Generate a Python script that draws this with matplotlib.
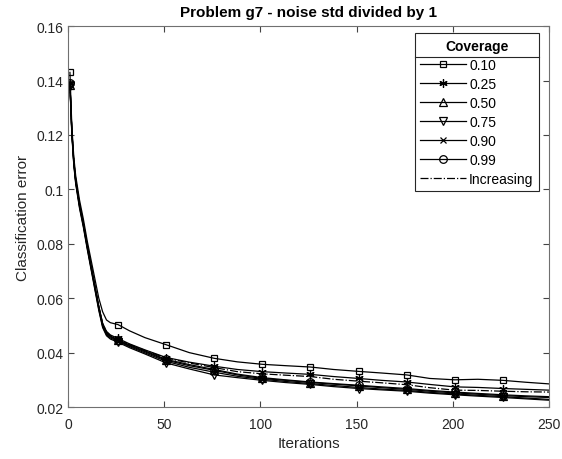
import matplotlib
matplotlib.use('Agg')
import matplotlib.pyplot as plt
from matplotlib.lines import Line2D

plt.rcParams['font.family'] = ['Liberation Sans', 'DejaVu Sans']

iters = [1, 2, 3, 4, 6, 8, 10, 12, 14, 16, 18, 20, 22, 26, 32, 40, 51, 63, 76,
         88, 101, 113, 126, 138, 151, 163, 176, 188, 201, 213, 226, 238, 250]

cov_010 = [0.1430, 0.1230, 0.1120, 0.1050, 0.0960, 0.0890, 0.0810, 0.0740, 0.0670, 0.0600, 0.0550,
           0.0520, 0.0510, 0.0503, 0.0480, 0.0455, 0.0429, 0.0400, 0.0379, 0.0366, 0.0357, 0.0352,
           0.0347, 0.0338, 0.0331, 0.0325, 0.0318, 0.0305, 0.0300, 0.0302, 0.0298, 0.0291, 0.0285]
cov_025 = [0.1390, 0.1215, 0.1105, 0.1035, 0.0945, 0.0875, 0.0795, 0.0720, 0.0645, 0.0570, 0.0508,
           0.0478, 0.0465, 0.0452, 0.0432, 0.0410, 0.0382, 0.0365, 0.0350, 0.0338, 0.0330, 0.0325,
           0.0320, 0.0312, 0.0305, 0.0298, 0.0292, 0.0283, 0.0274, 0.0272, 0.0268, 0.0265, 0.0262]
cov_050 = [0.1385, 0.1210, 0.1100, 0.1030, 0.0940, 0.0870, 0.0790, 0.0715, 0.0640, 0.0565, 0.0500,
           0.0470, 0.0458, 0.0445, 0.0425, 0.0403, 0.0372, 0.0352, 0.0335, 0.0318, 0.0305, 0.0298,
           0.0290, 0.0284, 0.0278, 0.0271, 0.0265, 0.0258, 0.0252, 0.0247, 0.0242, 0.0238, 0.0235]
cov_075 = [0.1380, 0.1200, 0.1090, 0.1020, 0.0930, 0.0860, 0.0780, 0.0705, 0.0630, 0.0555, 0.0492,
           0.0462, 0.0450, 0.0438, 0.0418, 0.0395, 0.0362, 0.0340, 0.0318, 0.0308, 0.0298, 0.0290,
           0.0283, 0.0275, 0.0268, 0.0263, 0.0258, 0.0251, 0.0245, 0.0240, 0.0235, 0.0230, 0.0225]
cov_090 = [0.1385, 0.1205, 0.1095, 0.1025, 0.0935, 0.0865, 0.0785, 0.0710, 0.0635, 0.0560, 0.0496,
           0.0466, 0.0454, 0.0442, 0.0422, 0.0399, 0.0368, 0.0346, 0.0328, 0.0313, 0.0302, 0.0294,
           0.0286, 0.0279, 0.0272, 0.0266, 0.0261, 0.0254, 0.0248, 0.0243, 0.0238, 0.0233, 0.0228]
cov_099 = [0.1390, 0.1212, 0.1102, 0.1032, 0.0942, 0.0872, 0.0792, 0.0718, 0.0642, 0.0568, 0.0504,
           0.0474, 0.0461, 0.0447, 0.0428, 0.0406, 0.0375, 0.0356, 0.0338, 0.0321, 0.0308, 0.0300,
           0.0292, 0.0286, 0.0280, 0.0274, 0.0268, 0.0261, 0.0255, 0.0250, 0.0245, 0.0241, 0.0238]
increasing = [0.1395, 0.1215, 0.1105, 0.1035, 0.0945, 0.0875, 0.0795, 0.0720, 0.0645, 0.0570, 0.0506,
              0.0476, 0.0462, 0.0448, 0.0430, 0.0408, 0.0380, 0.0362, 0.0345, 0.0330, 0.0322, 0.0317,
              0.0312, 0.0302, 0.0295, 0.0289, 0.0282, 0.0271, 0.0262, 0.0261, 0.0258, 0.0256, 0.0255]

labels = ['0.10', '0.25', '0.50', '0.75', '0.90', '0.99', 'Increasing']
marker_iters = [1, 26, 51, 76, 101, 126, 151, 176, 201, 226]

series = [cov_010, cov_025, cov_050, cov_075, cov_090, cov_099, increasing]
markers = ['s', (6, 2, 0), '^', 'v', 'x', 'o', None]
msizes = [5, 6, 5.5, 5.5, 5, 5.5, 5]
styles = ['-', '-', '-', '-', '-', '-', '-.']

fig = plt.figure(figsize=(5.62, 4.6), dpi=100)
ax = fig.add_axes([0.121, 0.113, 0.856, 0.828])

mark_idx = [iters.index(m) for m in marker_iters]
for vals, mk, ms, ls, lab in zip(series, markers, msizes, styles, labels):
    ax.plot(iters, vals, color='black', linestyle=ls, linewidth=0.9,
            marker=mk, markevery=mark_idx, markersize=ms,
            markerfacecolor='none', markeredgecolor='black', markeredgewidth=0.9,
            label=lab)

ax.set_xlim(0, 250)
ax.set_ylim(0.02, 0.16)
ax.set_xticks([0, 50, 100, 150, 200, 250])
ax.set_yticks([0.02, 0.04, 0.06, 0.08, 0.1, 0.12, 0.14, 0.16])
ax.set_yticklabels(['0.02', '0.04', '0.06', '0.08', '0.1', '0.12', '0.14', '0.16'])
ax.tick_params(direction='in', top=True, right=True, length=4, width=0.8,
               color='#444444', labelsize=10, labelcolor='#262626')
ax.tick_params(axis='x', pad=7)
for sp in ax.spines.values():
    sp.set_color('#707070')
    sp.set_linewidth(0.8)

ax.set_xlabel('Iterations', fontsize=11, color='#262626', labelpad=4)
ax.set_ylabel('Classification error', fontsize=11, color='#262626', labelpad=4)
ax.set_title('Problem g7 - noise std divided by 1', fontsize=11, fontweight='bold', pad=7)

leg = ax.legend(loc='upper right', bbox_to_anchor=(0.979, 0.982), title='Coverage',
                fontsize=10, handlelength=3.3, handletextpad=0.2, labelspacing=0.36,
                borderpad=0.4, borderaxespad=0, fancybox=False, framealpha=1,
                edgecolor='#262626')
leg.get_title().set_fontweight('bold')
leg.get_title().set_fontsize(10)
leg.get_frame().set_linewidth(0.8)

# separator under the legend title
fig.canvas.draw()
r = fig.canvas.get_renderer()
fb = leg.get_frame().get_window_extent(r)
tb = leg.get_title().get_window_extent(r)
yline = tb.y0 - 4
inv = fig.transFigure.inverted()
x0, y0 = inv.transform((fb.x0, yline))
x1, _ = inv.transform((fb.x1, yline))
fig.add_artist(Line2D([x0, x1], [y0, y0], color='#262626', linewidth=0.8,
                      transform=fig.transFigure))

fig.savefig('out.png', dpi=100)
